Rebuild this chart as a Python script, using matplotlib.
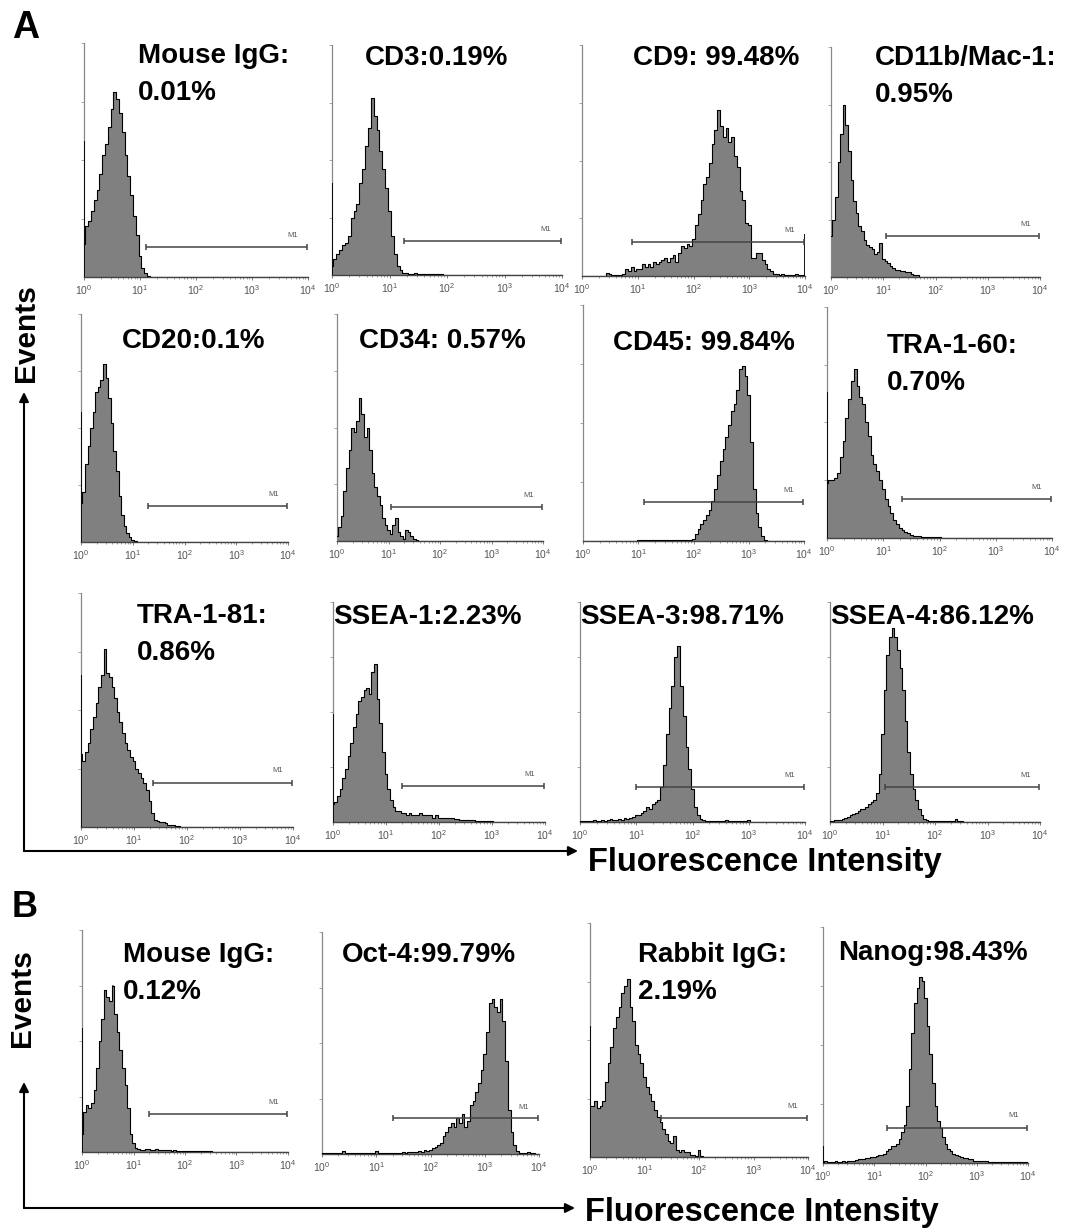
import numpy as np
import matplotlib
matplotlib.use('Agg')
import matplotlib.pyplot as plt
from matplotlib.ticker import LogLocator, NullFormatter
from matplotlib.patches import FancyArrowPatch

plt.rcParams['font.family'] = ['Liberation Sans', 'DejaVu Sans']
plt.rcParams['mathtext.fontset'] = 'custom'
plt.rcParams['mathtext.rm'] = 'Liberation Sans'
plt.rcParams['mathtext.it'] = 'Liberation Sans'

W, H = 1069, 1229
STEP = 0.05          # decades per channel group
NCH = 81             # 10^0 .. 10^4

# ---------------- data (percent of axis height, channel groups of 0.05 decade) ----------
titles = ["Mouse IgG:\n0.01%", "CD3:0.19%", "CD9: 99.48%", "CD11b/Mac-1:\n0.95%",
          "CD20:0.1%", "CD34: 0.57%", "CD45: 99.84%", "TRA-1-60:\n0.70%",
          "TRA-1-81:\n0.86%", "SSEA-1:2.23%", "SSEA-3:98.71%", "SSEA-4:86.12%",
          "Mouse IgG:\n0.12%", "Oct-4:99.79%", "Rabbit IgG:\n2.19%", "Nanog:98.43%"]

mouse_igg_a = [14, 22, 24, 28, 33, 37, 44, 52, 57, 64, 72, 79, 76, 70, 62, 52, 43, 35, 26, 18,
               9, 4, 1.5, 0.5]
cd3 = [4, 7, 9, 11, 13, 14, 17, 25, 28, 31, 40, 46, 56, 64, 77, 69, 63, 54, 46, 38,
       28, 17, 9, 4, 2, 1, 0.8, 0.6, 0.5, 0.7, 0.5, 0.4, 0.6, 0.5, 0.4, 0.3, 0.4, 0.3, 0.3, 0.2, 0.2]
cd9 = [0, 0, 0, 0, 0, 0, 0, 0, 0, 1.5, 1, 0.5, 0.3, 0.5, 0.5, 1, 3, 2, 4, 2,
       3, 3, 5, 4, 5, 4, 6, 5, 6, 7, 8, 6, 8, 9, 6, 10, 13, 12, 14, 13,
       16, 22, 27, 33, 40, 43, 49, 57, 63, 72, 65, 60, 64, 58, 60, 52, 47, 37, 33, 23,
       22, 8, 8, 10, 10, 7, 5, 3, 2, 1, 1, 0.5, 1, 0.5, 0.5, 0.5, 0.5, 1, 0.5, 0.5, 0]
cd11b = [18, 25, 35, 50, 62, 75, 66, 55, 42, 33, 28, 22, 20, 16, 14, 13, 12, 10, 11, 15,
         8, 7, 6, 5, 4, 3, 3, 2.5, 2.5, 2, 2, 1.5, 1, 1]
cd20 = [17, 22, 34, 42, 50, 57, 66, 68, 71, 78, 72, 63, 52, 40, 31, 20, 12, 7, 4, 2, 1, 0.3]
cd34 = [2, 6, 11, 22, 32, 40, 50, 48, 53, 63, 56, 46, 50, 40, 30, 24, 20, 16, 10, 7,
        5, 3, 7, 10, 4, 2, 1, 5, 4, 2, 1, 0.5]
cd45 = [0] * 20 + [0.3] * 19 + [0.5, 1, 3, 5, 7, 9, 11, 13, 17, 22, 28, 34, 39, 44, 49, 55, 58, 64,
                                73, 74, 70, 62, 42, 22, 12, 6, 2, 0.5]
tra160 = [24, 25, 25, 26, 28, 35, 42, 52, 60, 68, 73, 66, 61, 58, 50, 44, 36, 32, 29, 25,
          21, 17, 14, 11, 8, 6, 4.5, 3.5, 2.5, 2, 1.5, 1, 0.8, 0.7, 0.6, 0.5, 0.5, 0.4, 0.4, 0.5, 0.3]
tra181 = [31, 28, 32, 36, 42, 47, 53, 60, 65, 76, 66, 64, 60, 55, 49, 45, 40, 36, 33, 30,
          28, 25, 23, 21, 19, 16, 11, 6, 3, 2.5, 2, 2, 1.5, 1, 1, 1, 0.5, 0.5]
ssea1 = [8, 9, 12, 15, 20, 24, 30, 36, 43, 49, 55, 57, 60, 61, 58, 68, 72, 56, 45, 32,
         22, 15, 10, 7, 5, 5, 4, 4, 3, 4, 3, 3, 3, 4, 3, 3, 3, 3, 2, 3,
         2, 2, 2, 2, 2, 2, 1.5, 1.5, 1, 1, 1, 0.8, 0.7, 0.7, 0.6, 0.6, 0.5, 0.5, 0.5, 0.5, 0.4]
ssea3 = [0.5, 0.5, 0.3, 0.5, 0.5, 1, 0.5, 0.5, 1, 0.5, 1, 1.5, 1, 1, 1.5, 1, 2, 1.5, 2, 2.5,
         3, 3, 4, 5, 7, 6, 8, 9, 10, 16, 26, 40, 52, 62, 75, 80, 62, 48, 34, 24,
         15, 7, 3, 1.5, 1, 0.5, 0.3, 0.3, 0.3, 0.3, 0.3, 0.5, 1, 0.3, 0.3, 0.3, 0.3, 0.3, 0.3, 0.3, 0.8]
ssea4 = [0.5, 0.5, 1, 1, 1, 1.5, 2, 2.5, 3, 3.5, 4, 5, 6, 6, 7, 8, 9, 10, 13, 22,
         40, 60, 76, 84, 88, 84, 78, 70, 60, 46, 32, 22, 15, 10, 6, 3, 1.5, 1, 0.5, 0.5,
         0.5, 0.5, 0.5, 0.5, 0.5, 0.5, 0.5, 0.5, 1.5, 0.5, 0.3]
mouse_igg_b = [8, 18, 21, 20, 22, 28, 38, 50, 60, 73, 70, 68, 75, 62, 54, 46, 38, 30, 20, 8,
               4, 2, 1.5, 1, 1, 1.5, 1.5, 1, 1, 1.5, 1, 0.7, 0.7, 1, 0.7, 0.5, 0.7, 0.5, 0.5, 0.5,
               0.5, 0.3, 0.3, 0.3, 0.3, 0.3, 0.3, 0.3, 0.3, 0.3, 0.3]
oct4 = [0.3, 0.3, 0.3, 0.3, 0.3, 0.3, 0.3, 0.3, 1.5, 0.5, 0.3, 0.3, 0.3, 0.3, 0.3, 0.3, 0.3, 0.3, 0.3, 0.3,
        1.5, 0.5, 0.3, 0.3, 0.3, 0.3, 0.3, 0.3, 0.3, 0.3, 1, 0.5, 0.8, 0.8, 1, 1, 1.5, 1, 2, 1.5,
        2, 2.5, 3, 4, 5, 8, 10, 12, 14, 12, 16, 14, 18, 12, 15, 22, 24, 28, 32, 38,
        45, 55, 68, 70, 66, 64, 70, 60, 42, 20, 10, 4, 1.5, 0.5, 0.5, 0.5, 1, 0.5, 0.3]
rabbit_igg = [22, 22, 24, 21, 22, 24, 32, 40, 47, 55, 60, 64, 70, 73, 76, 64, 58, 48, 44, 40,
              34, 30, 27, 24, 20, 17, 15, 12, 10, 7, 6, 9, 3, 2, 3, 2, 2, 1, 1, 0.5, 3, 0.5]
nanog = [0.5, 0.8, 0.5, 0.6, 0.5, 0.8, 0.6, 0.5, 0.7, 0.6, 0.8, 1, 1, 1.2, 1.5, 1.5, 1.5, 2, 2, 2.5,
         2.5, 3, 3.5, 3.5, 4, 5, 6, 7, 7, 8, 10, 13, 16, 24, 40, 55, 68, 74, 79, 77,
         70, 58, 46, 34, 24, 18, 15, 11, 8, 6, 5, 4, 3.5, 3, 2.5, 2, 2, 1.5, 1.5, 1,
         1, 1, 0.8, 0.8, 0.7, 0.6, 0.5, 0.5, 0.5, 0.5, 0.5, 0.4, 0.4, 0.3, 0.3, 0.3, 0.3, 0.3, 0.3, 0.3, 0.3]

histograms = [mouse_igg_a, cd3, cd9, cd11b, cd20, cd34, cd45, tra160,
              tra181, ssea1, ssea3, ssea4, mouse_igg_b, oct4, rabbit_igg, nanog]
first_channel_spike = [58, 40, 0, 0, 57, 0, 0, 63, 65, 49, 0, 0, 56, 0, 56, 7]
last_channel_spike = [0, 0, 18, 0, 0, 0, 0, 0, 0, 0, 0, 0, 0, 0, 0, 0]
m1_start_log = [1.1, 1.25, 0.9, 1.05, 1.3, 1.05, 1.1, 1.33, 1.35, 1.3, 1.0, 1.05, 1.3, 1.3, 1.3, 1.25]
m1_level = [12.8, 14.8, 14.7, 18.0, 15.8, 15.0, 16.5, 16.8, 19.0, 16.5, 16.0, 16.0, 17.0, 16.0, 16.7, 15.0]
tick_labels = [r'$10^{0}$', r'$10^{1}$', r'$10^{2}$', r'$10^{3}$', r'$10^{4}$']

# ---------------- layout (pixels: left, top, right, bottom) ----------------
panel_px = [(84, 43, 308, 277), (332, 45, 562, 275), (582, 45, 805, 276), (831, 47, 1040, 277),
            (81, 314, 288, 542), (337, 314, 543, 541), (583, 305, 804, 541), (827, 307, 1052, 538),
            (81, 593, 293, 827), (333, 602, 545, 822), (580, 602, 805, 822), (830, 602, 1040, 822),
            (82, 930, 288, 1152), (322, 932, 539, 1154), (590, 923, 808, 1157), (823, 927, 1028, 1163)]
title_px = [(138, 43), (365, 45), (633, 45), (875, 45),
            (122, 328), (359, 328), (613, 330), (887, 333),
            (137, 603), (333, 604), (580, 604), (830, 604),
            (123, 942), (342, 942), (638, 942), (838, 940)]
TITLE_PT = 20
LINE_GAP = 37
CAP = 0.716 * TITLE_PT * 100 / 72.0

fig = plt.figure(figsize=(W / 100, H / 100), dpi=100)


def fx(x):
    return x / W


def fy(y):
    return 1 - y / H


chan_x = 10 ** (np.arange(NCH) * STEP)

for i in range(16):
    l, t, r, b = panel_px[i]
    ax = fig.add_axes([fx(l), fy(b), (r - l) / W, (b - t) / H])
    vals = np.zeros(NCH)
    v = np.asarray(histograms[i], dtype=float) / 100.0
    vals[:len(v)] = v[:NCH]
    ax.fill_between(chan_x, 0, vals, step='mid', color='#808080', lw=0, zorder=2)
    ax.step(chan_x, vals, where='mid', color='black', lw=0.8, zorder=3)
    if first_channel_spike[i]:
        ax.vlines(10 ** 0.006, 0, first_channel_spike[i] / 100.0, color='black', lw=1.3, zorder=4)
    if last_channel_spike[i]:
        ax.vlines(10 ** 3.994, 0, last_channel_spike[i] / 100.0, color='black', lw=1.3, zorder=4)
    # M1 marker
    lvl = m1_level[i] / 100.0
    xs = [10 ** m1_start_log[i], 10 ** 3.985]
    ax.plot(xs, [lvl, lvl], color='#444444', lw=1.1, zorder=5, solid_capstyle='butt')
    ax.plot(xs, [lvl, lvl], ls='none', marker='|', ms=5, mew=1.1, color='#444444', zorder=5)
    ax.text(10 ** 3.72, lvl + 0.035, 'M1', fontsize=5.5, color='#555555', ha='center', va='bottom')

    ax.set_xscale('log')
    ax.set_xlim(1, 1e4)
    ax.set_ylim(0, 1)
    ax.set_xticks([1, 10, 100, 1000, 10000])
    ax.set_xticklabels(tick_labels)
    ax.xaxis.set_minor_locator(LogLocator(base=10, subs=np.arange(2, 10)))
    ax.xaxis.set_minor_formatter(NullFormatter())
    ax.set_yticks([0.25, 0.5, 0.75, 1.0])
    ax.tick_params(axis='x', which='major', length=2.5, width=0.6, color='#666666',
                   labelsize=7.5, labelcolor='#555555', pad=2)
    ax.tick_params(axis='x', which='minor', length=1.5, width=0.5, color='#777777')
    ax.tick_params(axis='y', length=2.5, width=0.6, color='#999999', labelleft=False)
    for s in ('top', 'right'):
        ax.spines[s].set_visible(False)
    ax.spines['left'].set_color('#888888')
    ax.spines['left'].set_linewidth(0.9)
    ax.spines['bottom'].set_color('#444444')
    ax.spines['bottom'].set_linewidth(1.0)
    ax.patch.set_alpha(0)

    # title lines
    tx, ty = title_px[i]
    for k, line in enumerate(titles[i].split('\n')):
        fig.text(fx(tx), fy(ty + CAP + k * LINE_GAP), line, fontsize=TITLE_PT,
                 fontweight='bold', ha='left', va='baseline', zorder=10)

# ---------------- panel letters, axis arrows, labels ----------------
fig.text(fx(12), fy(10), 'A', fontsize=27, fontweight='bold', ha='left', va='top')
fig.text(fx(12), fy(890), 'B', fontsize=26, fontweight='bold', ha='left', va='top')


def arrow(x0, y0, x1, y1):
    fig.add_artist(FancyArrowPatch((fx(x0), fy(y0)), (fx(x1), fy(y1)),
                                   transform=fig.transFigure, arrowstyle='-|>',
                                   mutation_scale=14, lw=1.5, color='black',
                                   shrinkA=0, shrinkB=0))


arrow(24, 851, 24, 392)
arrow(24, 851, 578, 851)
arrow(24, 1208, 24, 1082)
arrow(24, 1208, 575, 1208)

fig.text(fx(26), fy(333), 'Events', fontsize=21.5, fontweight='bold', rotation=90,
         ha='center', va='center')
fig.text(fx(22), fy(998), 'Events', fontsize=21.5, fontweight='bold', rotation=90,
         ha='center', va='center')
fig.text(fx(588), fy(862), 'Fluorescence Intensity', fontsize=23.5, fontweight='bold',
         ha='left', va='center')
fig.text(fx(585), fy(1213), 'Fluorescence Intensity', fontsize=23.5, fontweight='bold',
         ha='left', va='center')

fig.savefig('out.png', dpi=100)
